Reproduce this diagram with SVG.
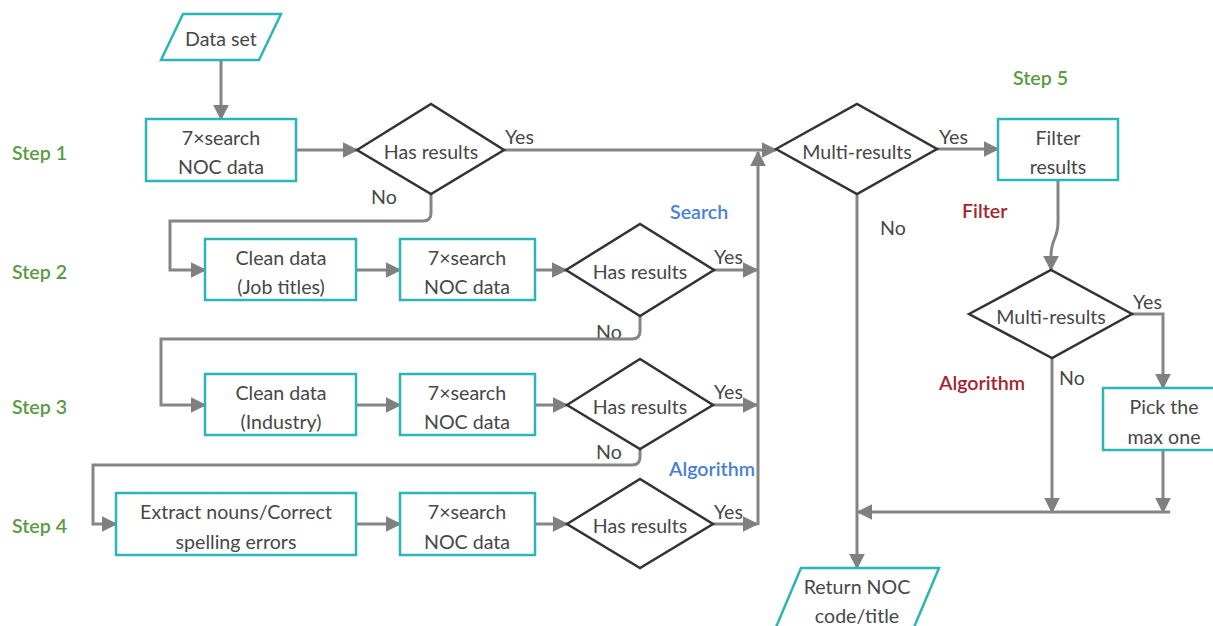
<svg xmlns="http://www.w3.org/2000/svg" width="1213" height="626" viewBox="0 0 1213 626">
<style>
.bg{fill:#fff}
.box{fill:#fff;stroke:#2bb5b5;stroke-width:2.5}
.dia{fill:#fff;stroke:#333;stroke-width:2.5}
.t{font-family:Lato,"Liberation Sans",sans-serif;font-size:19.6px;fill:#474747;text-anchor:middle;dominant-baseline:central}
.lbl{font-family:Lato,"Liberation Sans",sans-serif;font-size:19.6px;fill:#474747;dominant-baseline:central}
.step{font-family:Lato,"Liberation Sans",sans-serif;font-size:19.6px;fill:#5b9a45;font-weight:600;dominant-baseline:central}
.blue{font-family:Lato,"Liberation Sans",sans-serif;font-size:19.6px;fill:#4a7fd6;font-weight:600;dominant-baseline:central}
.red{font-family:Lato,"Liberation Sans",sans-serif;font-size:19.6px;fill:#a3262e;font-weight:600;dominant-baseline:central}
.c{fill:none;stroke:#858585;stroke-width:3;marker-end:url(#ah)}
</style>
<defs>
<marker id="ah" viewBox="0 0 10 10" refX="9" refY="5" markerUnits="userSpaceOnUse" markerWidth="16" markerHeight="16" orient="auto">
<path d="M0,0 L10,5 L0,10 z" fill="#808080"/>
</marker>
</defs>
<rect class="bg" x="0" y="0" width="1213" height="626"/>

<g id="labels">
<text class="step" x="12" y="152">Step 1</text>
<text class="step" x="12" y="271">Step 2</text>
<text class="step" x="12" y="406">Step 3</text>
<text class="step" x="12" y="525">Step 4</text>
<text class="step" x="1013" y="77">Step 5</text>
<text class="blue" x="670" y="211">Search</text>
<text class="blue" x="669" y="468">Algorithm</text>
<text class="red" x="962" y="210">Filter</text>
<text class="red" x="939" y="382">Algorithm</text>
<text class="lbl" x="505" y="136">Yes</text>
<text class="lbl" x="371" y="196">No</text>
<text class="lbl" x="714" y="256">Yes</text>
<text class="lbl" x="596" y="331">No</text>
<text class="lbl" x="714" y="391">Yes</text>
<text class="lbl" x="596" y="451">No</text>
<text class="lbl" x="714" y="511">Yes</text>
<text class="lbl" x="939" y="136">Yes</text>
<text class="lbl" x="880" y="227">No</text>
<text class="lbl" x="1133" y="301">Yes</text>
<text class="lbl" x="1059" y="377">No</text>
</g>

<g id="connectors">
<path class="c" d="M221,60 V119"/>
<path class="c" d="M296,150 H357"/>
<path class="c" d="M504,150 H776"/>
<path class="c" d="M431,194 V213 Q431,221 423,221 H170 V270 H205"/>
<path class="c" d="M356,270 H400"/>
<path class="c" d="M535,270 H566"/>
<path class="c" d="M714,270 H757"/>
<path class="c" d="M640,316 V331 Q640,339 632,339 H161 V405 H205"/>
<path class="c" d="M356,405 H400"/>
<path class="c" d="M535,405 H567"/>
<path class="c" d="M713,405 H757"/>
<path class="c" d="M640,449 V457 Q640,465 632,465 H93 V524 H116"/>
<path class="c" d="M356,524 H400"/>
<path class="c" d="M535,524 H567"/>
<path class="c" d="M713,524 H757"/>
<path class="c" d="M758,525 V152"/>
<path class="c" d="M937,149 H998"/>
<path class="c" d="M857,194 V568"/>
<path class="c" d="M1058,180 V222 C1058,240 1051,238 1051,256 V270"/>
<path class="c" d="M1132,314 H1163 V388"/>
<path class="c" d="M1052,358 V512"/>
<path class="c" d="M1163,450 V512"/>
<path class="c" d="M1170,512 H858"/>
</g>

<g id="n-dataset">
<polygon class="box" points="183,14 281,14 259,60 161,60"/>
<text class="t" x="221" y="38">Data set</text>
</g>
<g id="n-search1">
<rect class="box" x="146" y="119" width="150" height="62"/>
<text class="t" x="221" y="137">7×search</text>
<text class="t" x="221" y="166">NOC data</text>
</g>
<g id="n-has1">
<polygon class="dia" points="357,150 431,104 504,150 431,194"/>
<text class="t" x="431" y="151">Has results</text>
</g>
<g id="n-clean1">
<rect class="box" x="205" y="239" width="151" height="61"/>
<text class="t" x="281" y="257">Clean data</text>
<text class="t" x="281" y="286">(Job titles)</text>
</g>
<g id="n-search2">
<rect class="box" x="400" y="239" width="135" height="61"/>
<text class="t" x="467" y="257">7×search</text>
<text class="t" x="467" y="286">NOC data</text>
</g>
<g id="n-has2">
<polygon class="dia" points="566,270 640,224 714,270 640,316"/>
<text class="t" x="640" y="271">Has results</text>
</g>
<g id="n-clean2">
<rect class="box" x="205" y="374" width="151" height="61"/>
<text class="t" x="281" y="392">Clean data</text>
<text class="t" x="281" y="421">(Industry)</text>
</g>
<g id="n-search3">
<rect class="box" x="400" y="374" width="135" height="61"/>
<text class="t" x="467" y="392">7×search</text>
<text class="t" x="467" y="421">NOC data</text>
</g>
<g id="n-has3">
<polygon class="dia" points="567,405 640,359 713,405 640,449"/>
<text class="t" x="640" y="406">Has results</text>
</g>
<g id="n-extract">
<rect class="box" x="116" y="493" width="240" height="62"/>
<text class="t" x="236" y="511">Extract nouns/Correct</text>
<text class="t" x="236" y="541">spelling errors</text>
</g>
<g id="n-search4">
<rect class="box" x="400" y="493" width="135" height="62"/>
<text class="t" x="467" y="511">7×search</text>
<text class="t" x="467" y="541">NOC data</text>
</g>
<g id="n-has4">
<polygon class="dia" points="567,524 640,479 713,524 640,568"/>
<text class="t" x="640" y="525">Has results</text>
</g>
<g id="n-multi1">
<polygon class="dia" points="776,149 857,104 937,149 857,194"/>
<text class="t" x="857" y="151">Multi-results</text>
</g>
<g id="n-filter">
<rect class="box" x="998" y="119" width="120" height="61"/>
<text class="t" x="1058" y="137">Filter</text>
<text class="t" x="1058" y="166">results</text>
</g>
<g id="n-multi2">
<polygon class="dia" points="969,314 1051,270 1132,314 1052,358"/>
<text class="t" x="1051" y="316">Multi-results</text>
</g>
<g id="n-pick">
<rect class="box" x="1103" y="388" width="120" height="62"/>
<text class="t" x="1164" y="406">Pick the</text>
<text class="t" x="1164" y="436">max one</text>
</g>
<g id="n-return">
<polygon class="box" points="801,568 939,568 912,632 774,632"/>
<text class="t" x="857" y="586">Return NOC</text>
<text class="t" x="857" y="615">code/title</text>
</g>
</svg>
